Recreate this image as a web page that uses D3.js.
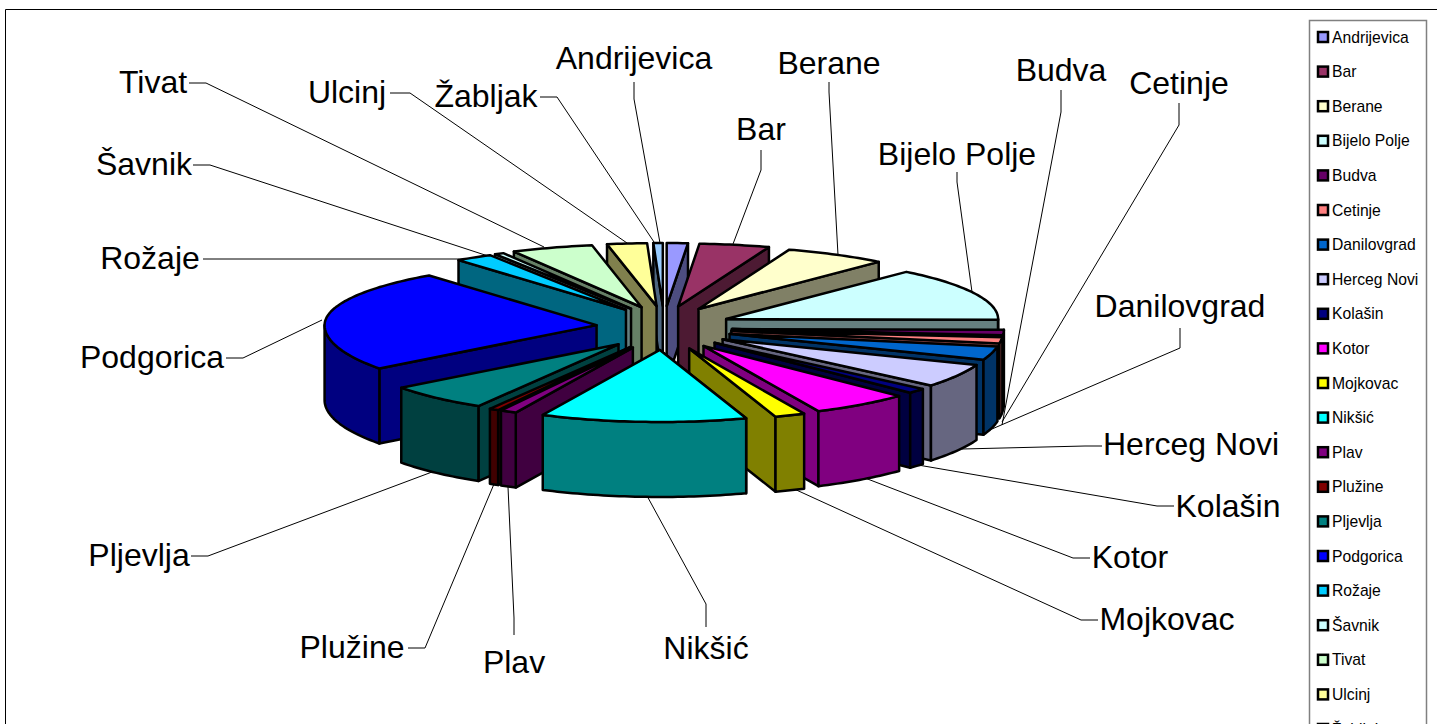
<!DOCTYPE html>
<html>
<head>
<meta charset="utf-8">
<script src="https://cdn.jsdelivr.net/npm/d3@7"></script>
<style>
  html, body { margin: 0; padding: 0; background: #fff; overflow: hidden; }
  svg { display: block; }
  text { font-family: "Liberation Sans", Arial, sans-serif; fill: #000; }
</style>
</head>
<body>
<svg id="chart" width="1437" height="724"></svg>
<script>
const names = ['Andrijevica', 'Bar', 'Berane', 'Bijelo Polje', 'Budva', 'Cetinje', 'Danilovgrad',
  'Herceg Novi', 'Kolašin', 'Kotor', 'Mojkovac', 'Nikšić', 'Plav', 'Plužine', 'Pljevlja',
  'Podgorica', 'Rožaje', 'Šavnik', 'Tivat', 'Ulcinj', 'Žabljak'];
const values = [4.5, 15, 22, 49, 4.5, 5, 11, 19, 4, 21, 6.5, 44, 3.5, 2, 22, 89, 8, 2, 17.5, 8.5, 2];
const colors = ['#9999ff', '#993366', '#ffffcc', '#ccffff', '#660066', '#ff8080', '#0066cc',
  '#ccccff', '#000080', '#ff00ff', '#ffff00', '#00ffff', '#800080', '#800000', '#008080',
  '#0000ff', '#00ccff', '#ccffff', '#ccffcc', '#ffff99', '#99ccff'];

// label anchor, then leader polyline: label end, elbow, point on the pie
const labelLayout = {
  'Andrijevica': { x: 634, y: 69, line: [[634, 82], [634, 99], [660, 243]] },
  'Bar': { x: 761, y: 140, line: [[761, 150], [761, 170], [733, 244]] },
  'Berane': { x: 829, y: 74, line: [[829, 82], [829, 92], [838, 255]] },
  'Bijelo Polje': { x: 957, y: 165, line: [[957, 172], [957, 182], [972, 292]] },
  'Budva': { x: 1061, y: 81, line: [[1061, 90], [1061, 112], [1002, 425]] },
  'Cetinje': { x: 1179, y: 94, line: [[1179, 103], [1179, 125], [1002, 422]] },
  'Danilovgrad': { x: 1180, y: 317, line: [[1180, 328], [1180, 348], [985, 432]] },
  'Herceg Novi': { x: 1191, y: 455, line: [[1102, 446], [1085, 446], [962, 449]] },
  'Kolašin': { x: 1228, y: 517, line: [[1174, 506], [1157, 506], [918, 465]] },
  'Kotor': { x: 1130, y: 568, line: [[1090, 558], [1073, 558], [865, 478]] },
  'Mojkovac': { x: 1167, y: 630, line: [[1098, 620], [1081, 620], [792, 488]] },
  'Nikšić': { x: 706, y: 659, line: [[706, 627], [706, 604], [646, 494]] },
  'Plav': { x: 514, y: 673, line: [[514, 635], [514, 618], [508, 487]] },
  'Plužine': { x: 352, y: 658, line: [[408, 648], [425, 648], [494, 484]] },
  'Pljevlja': { x: 139, y: 566, line: [[191, 556], [208, 556], [432, 472]] },
  'Podgorica': { x: 152, y: 368, line: [[226, 358], [243, 358], [322, 320]] },
  'Rožaje': { x: 150, y: 269, line: [[203, 259], [220, 259], [490, 259]] },
  'Šavnik': { x: 144, y: 175, line: [[193, 165], [210, 165], [488, 256]] },
  'Tivat': { x: 153, y: 93, line: [[189, 83], [206, 83], [544, 247]] },
  'Ulcinj': { x: 347, y: 103, line: [[390, 93], [410, 93], [627, 243]] },
  'Žabljak': { x: 486, y: 107, line: [[540, 97], [557, 97], [654, 242]] }
};

const centerX = 664, centerY = 328;
const radiusX = 272, radiusBack = 63, radiusFront = 72;
const explodeX = 68, explodeY = 22;
const depth = 75;

const svg = d3.select('#chart');
const lineGen = d3.line();
const colorScale = d3.scaleOrdinal().domain(names).range(colors);

// unit circle -> screen, the pie's back half is squashed a bit more than the front
const xScale = d3.scaleLinear().domain([-1, 1]).range([centerX - radiusX, centerX + radiusX]);
const yScale = d3.scaleLinear().domain([-1, 0, 1]).range([radiusFront, 0, -radiusBack]);
const wallColor = c => { const k = d3.rgb(c); return d3.rgb(k.r * 0.5, k.g * 0.5, k.b * 0.5).formatHex(); };

const arcs = d3.pie().value(d => d).sort(null)(values).map((a, i) => {
  const mid = (a.startAngle + a.endAngle) / 2;
  return {
    name: names[i],
    start: a.startAngle,
    end: a.endAngle,
    mid,
    apex: [centerX + explodeX * Math.sin(mid), centerY - explodeY * Math.cos(mid)]
  };
});

function rimPoint(s, angle) {
  return [
    s.apex[0] + xScale(Math.sin(angle)) - centerX,
    s.apex[1] + yScale(Math.cos(angle))
  ];
}

function rimPoints(s, from, to) {
  const steps = Math.max(2, Math.ceil((to - from) / 0.02));
  return d3.range(steps + 1).map(i => rimPoint(s, from + (to - from) * i / steps));
}

const lower = p => [p[0], p[1] + depth];

// outer frame
svg.append('path')
  .attr('d', 'M5.5,724V9.5H1437')
  .attr('fill', 'none')
  .attr('stroke', '#000')
  .attr('stroke-width', 1);

// leader lines go under the pie
names.forEach(name => {
  svg.append('path')
    .attr('d', lineGen(labelLayout[name].line))
    .attr('fill', 'none')
    .attr('stroke', '#000')
    .attr('stroke-width', 1);
});

// back slices first
const drawOrder = arcs.slice().sort((a, b) => Math.cos(b.mid) - Math.cos(a.mid));

drawOrder.forEach(s => {
  const color = colorScale(s.name);
  const wall = wallColor(color);
  const g = svg.append('g')
    .attr('stroke', '#000')
    .attr('stroke-width', 2.5)
    .attr('stroke-linejoin', 'round');

  // radial wall: end edge shows on the right half, start edge on the left
  const edgeAngle = s.end <= Math.PI ? s.end : s.start;
  const rim = rimPoint(s, edgeAngle);
  g.append('path')
    .attr('d', lineGen([s.apex, rim, lower(rim), lower(s.apex)]) + 'Z')
    .attr('fill', wall);

  // curved outer wall, only the part facing the viewer
  const from = Math.max(s.start, Math.PI / 2);
  const to = Math.min(s.end, Math.PI * 1.5);
  if (to > from) {
    const upper = rimPoints(s, from, to);
    g.append('path')
      .attr('d', lineGen(upper.concat(upper.map(lower).reverse())) + 'Z')
      .attr('fill', wall);
  }

  // top face
  g.append('path')
    .attr('d', lineGen([s.apex].concat(rimPoints(s, s.start, s.end))) + 'Z')
    .attr('fill', color);
});

// slice labels
names.forEach(name => {
  const l = labelLayout[name];
  svg.append('text')
    .attr('x', l.x)
    .attr('y', l.y)
    .attr('text-anchor', 'middle')
    .attr('font-size', 32)
    .text(name);
});

// legend, runs off the bottom of the window like in the original
const legendX = 1309, legendRight = 1426, legendTop = 20;
const legendY = d3.scalePoint().domain(names).range([37, 729]);

svg.append('path')
  .attr('d', `M${legendX + 0.5},724V${legendTop + 0.5}H${legendRight + 0.5}V724`)
  .attr('fill', 'none')
  .attr('stroke', '#808080')
  .attr('stroke-width', 1.5);

const legendRows = svg.append('g').selectAll('g').data(names).join('g')
  .attr('transform', d => `translate(${legendX},${legendY(d)})`);

legendRows.append('rect')
  .attr('x', 9)
  .attr('y', -5)
  .attr('width', 10)
  .attr('height', 10)
  .attr('fill', d => colorScale(d))
  .attr('stroke', '#000')
  .attr('stroke-width', 2.5);

legendRows.append('text')
  .attr('x', 23)
  .attr('y', 5.5)
  .attr('font-size', 15.7)
  .text(d => d);
</script>
</body>
</html>
